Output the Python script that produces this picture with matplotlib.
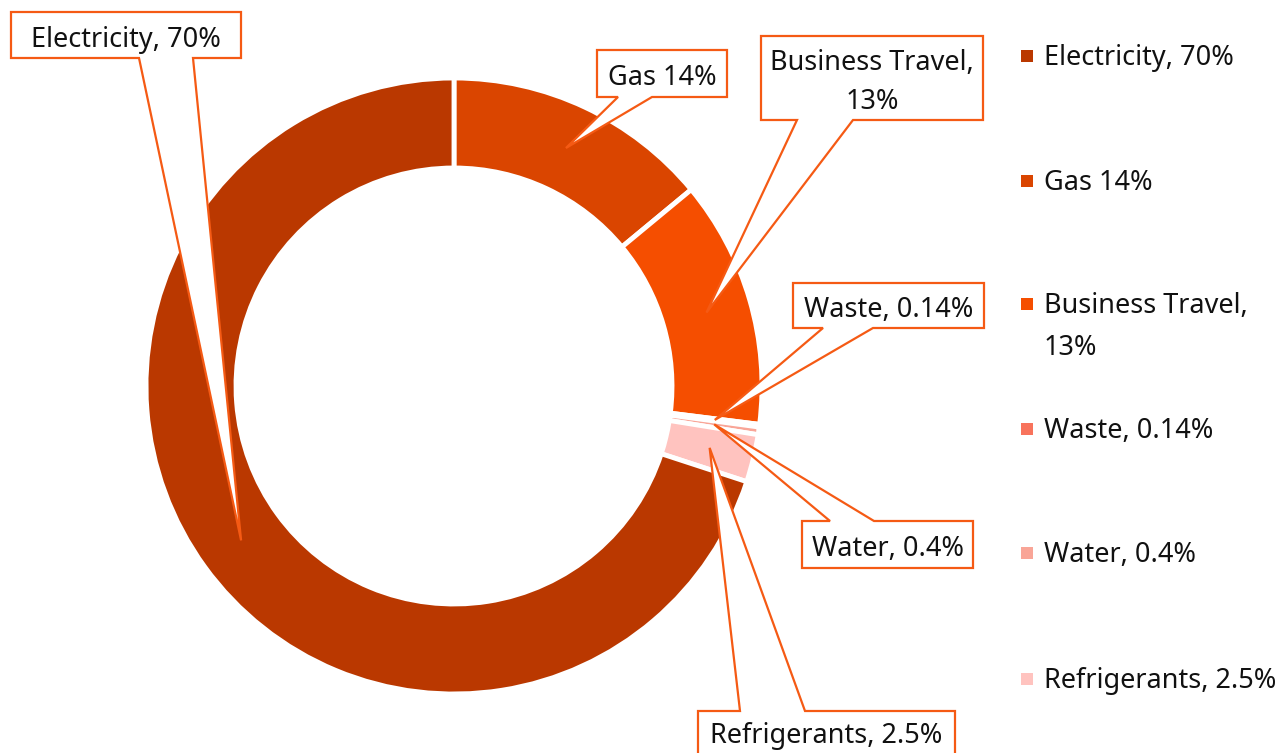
import numpy as np
import matplotlib.pyplot as plt
from matplotlib.patches import Polygon

# data
labels = ["Gas 14%", "Business Travel,\n13%", "Waste, 0.14%", "Water, 0.4%",
          "Refrigerants, 2.5%", "Electricity, 70%"]
values = [14, 13, 0.14, 0.4, 2.5, 70]
colors = ["#DA4500", "#F54E00", "#F8735C", "#F9A597", "#FFC3BF", "#BA3800"]

legend_order = [5, 0, 1, 2, 3, 4]

W, H = 1285, 753
EDGE = "#F55A14"
FONT = "Noto Sans"
FS = 19.5

fig = plt.figure(figsize=(W / 100, H / 100), dpi=100)
ax = fig.add_axes([0, 0, 1, 1])

cx, cy = 454, H - 386
r_out, ring = 308, 90

ax.pie(values, colors=colors, startangle=90, counterclock=False,
       center=(cx, cy), radius=r_out, frame=True,
       wedgeprops=dict(width=ring, edgecolor="white", linewidth=3.5))
ax.set_xlim(0, W)
ax.set_ylim(0, H)
ax.set_aspect("equal")
ax.axis("off")


def draw_lines(x, baseline, text, step, ha):
    # one text object per line, baselines step px apart (pixel coords, top origin)
    for j, line in enumerate(text.split("\n")):
        ax.text(x, H - (baseline + j * step), line, ha=ha, va="baseline",
                fontsize=FS, family=FONT, color="#111111", zorder=6)


# callout boxes (pixel layout, top-left origin): box, pointer base, side, first baseline
boxes = [
    ((597, 50, 727, 97), (618, 652), "bottom", 85),
    ((761, 36, 983, 120), (797, 853), "bottom", 70),
    ((793, 283, 984, 328), (823, 873), "bottom", 317),
    ((802, 521, 973, 568), (830, 874), "top", 556),
    ((698, 711, 955, 770), (740, 805), "top", 743),
    ((11, 12, 241, 58), (139, 193), "bottom", 47),
]

total = sum(values)
cum = np.cumsum([0] + values)
r_mid = r_out - ring / 2
for i, (box, base, side, bl) in enumerate(boxes):
    mid = (cum[i] + values[i] / 2) / total * 2 * np.pi
    tip = (cx + r_mid * np.sin(mid), cy + r_mid * np.cos(mid))
    x0, y0, x1, y1 = box
    y0, y1 = H - y0, H - y1
    b0, b1 = base
    if side == "bottom":
        pts = [(x0, y0), (x1, y0), (x1, y1), (b1, y1), tip, (b0, y1), (x0, y1)]
    else:
        pts = [(x0, y1), (x0, y0), (b0, y0), tip, (b1, y0), (x1, y0), (x1, y1)]
    ax.add_patch(Polygon(pts, closed=True, facecolor="white", edgecolor=EDGE,
                         linewidth=1.6, zorder=5, clip_on=False))
    draw_lines((x0 + x1) / 2, bl, labels[i], 39, "center")

# legend
row_y = [56, 181, 304, 429, 553, 679]
for k, idx in enumerate(legend_order):
    ax.scatter([1027], [H - row_y[k]], marker="s", s=85, color=colors[idx],
               linewidths=0, zorder=5)
    draw_lines(1044, row_y[k] + 9, labels[idx], 42, "left")

fig.savefig("out.png", dpi=100)
